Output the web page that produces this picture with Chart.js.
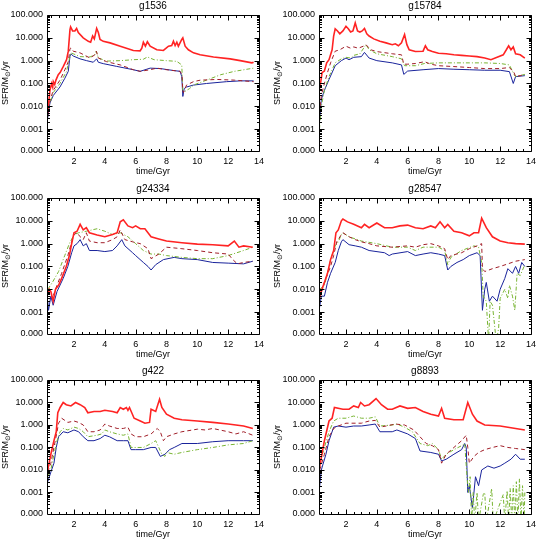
<!DOCTYPE html>
<html><head><meta charset="utf-8">
<script src="https://cdn.jsdelivr.net/npm/chart.js@4/dist/chart.umd.min.js"></script>
<style>
html,body{margin:0;padding:0;background:#fff;}
#wrap{position:relative;width:545px;height:545px;overflow:hidden;}
#wrap canvas{position:absolute;}
</style></head><body><div id="wrap"></div>
<script>
// ---------------- data ----------------
const panelNames = ['g1536','g15784','g24334','g28547','g422','g8893'];
const seriesNames = ['red','brown','green','blue'];
const yTickValues = [1.1e-4, 0.001, 0.01, 0.1, 1, 10, 100];
const xTickValues = [2,4,6,8,10,12,14];
const xLabel = 'time/Gyr';

// g1536
const g1536_red = [[0.29,0.005],[0.44,0.05],[0.55,0.1],[0.62,0.07],[0.66,0.12],[0.75,0.09],[0.83,0.14],[0.98,0.24],[1.1,0.3],[1.31,0.56],[1.52,1.1],[1.63,2.6],[1.74,23],[1.78,30],[1.91,20],[2.06,20],[2.17,26],[2.28,17],[2.6,10],[2.93,7],[3.08,6.4],[3.21,12],[3.32,9],[3.47,26],[3.58,17],[3.69,8.5],[3.9,7],[4.34,6],[5.0,4.3],[5.85,2.8],[6.29,2.7],[6.4,3.5],[6.5,6.4],[6.63,4.3],[6.76,6.7],[6.94,4.3],[7.37,3],[7.8,2.8],[8.13,4.3],[8.34,4.6],[8.45,7.1],[8.56,4.6],[8.67,6.4],[8.77,4.3],[8.99,8.5],[9.06,10],[9.21,4.3],[9.42,3],[9.75,2.2],[10.18,1.8],[11.05,1.45],[12.13,1.2],[12.78,1.0],[13.54,0.8],[13.65,0.85]];
const g1536_brown = [[0.29,0.0035],[0.44,0.018],[0.66,0.05],[1.09,0.14],[1.41,0.4],[1.63,0.9],[1.74,3.3],[1.8,3.6],[1.95,2.6],[2.39,2.2],[3.04,1.3],[3.35,1.8],[3.45,2.6],[3.58,1.3],[4.12,0.9],[5.0,0.65],[5.85,0.4],[6.29,0.34],[6.94,0.4],[7.37,0.47],[8.0,0.4],[8.88,0.34],[9.0,0.25],[9.06,0.05],[9.1,0.04],[9.3,0.085],[9.75,0.12],[10.2,0.14],[11.3,0.15],[12.4,0.14],[13.65,0.12]];
const g1536_green = [[0.29,0.007],[0.66,0.04],[1.09,0.1],[1.52,0.34],[1.74,1.55],[1.8,2.2],[1.95,2.0],[2.39,1.5],[3.04,1.45],[3.35,1.8],[3.45,2.6],[3.58,1.3],[3.9,1.1],[4.0,0.95],[5.0,1.0],[5.85,1.1],[6.5,1.15],[6.76,1.45],[7.2,1.1],[8.0,1.0],[8.67,0.93],[8.99,0.65],[9.06,0.05],[9.2,0.045],[9.5,0.06],[9.75,0.085],[10.6,0.14],[11.5,0.24],[12.4,0.34],[13.65,0.47]];
const g1536_blue = [[0.29,0.003],[0.44,0.014],[0.66,0.03],[1.09,0.07],[1.41,0.17],[1.63,0.34],[1.74,1.55],[1.8,2.0],[1.95,1.6],[2.39,1.2],[2.82,1.0],[3.25,0.85],[3.47,1.2],[3.58,0.85],[3.9,0.74],[4.77,0.56],[5.85,0.4],[6.29,0.34],[6.94,0.47],[7.6,0.45],[8.45,0.37],[8.88,0.34],[8.99,0.2],[9.06,0.027],[9.15,0.06],[9.3,0.07],[9.75,0.085],[10.6,0.1],[11.9,0.12],[12.8,0.13],[13.65,0.13]];

// g15784
const g15784_red = [[0.26,0.05],[0.35,0.1],[0.45,0.3],[0.6,0.35],[0.75,0.8],[0.9,1.1],[1.0,1.8],[1.1,3],[1.2,12],[1.3,25],[1.45,20],[1.6,15],[1.8,20],[2.0,32],[2.15,25],[2.3,18],[2.45,20],[2.6,45],[2.75,20],[2.9,18],[3.05,20],[3.2,26],[3.35,15],[3.5,12],[3.8,9],[4.2,7],[4.6,6],[5.0,5],[5.2,5.5],[5.4,4.5],[5.6,6],[5.8,14],[5.95,5],[6.1,3],[6.5,2.5],[7.0,2.6],[7.15,4.5],[7.3,3],[7.6,2.5],[8.0,2.1],[8.5,2.0],[9.0,1.8],[9.5,1.7],[10.0,1.6],[10.5,1.5],[11.0,1.3],[11.4,1.1],[11.8,1.4],[12.2,1.8],[12.4,3],[12.55,4.5],[12.7,3],[12.85,4],[13.0,2],[13.3,1.8],[13.6,1.3]];
const g15784_brown = [[0.28,0.005],[0.4,0.03],[0.6,0.1],[0.8,0.3],[1.0,0.8],[1.3,2.6],[1.6,3.0],[2.0,4.3],[2.3,3.5],[2.5,4],[2.8,3.5],[3.2,4.5],[3.3,5],[3.6,3],[4.0,2.5],[5.0,2.0],[5.6,1.8],[5.75,0.7],[6.0,0.7],[6.5,0.75],[7.1,0.9],[7.5,0.7],[8.0,0.6],[9.0,0.55],[10.0,0.5],[11.0,0.45],[12.0,0.45],[12.6,0.5],[12.9,0.3],[13.0,0.2],[13.3,0.22],[13.6,0.25]];
const g15784_green = [[0.28,0.001],[0.4,0.01],[0.6,0.05],[0.9,0.2],[1.3,0.8],[1.7,1.2],[2.0,1.4],[2.3,1.3],[2.5,1.7],[2.9,2.0],[3.2,4],[3.3,5],[3.5,3],[4.0,2.0],[5.0,1.5],[5.6,1.2],[5.8,0.6],[6.5,0.6],[7.1,0.75],[8.0,0.8],[9.0,0.8],[10.0,0.8],[11.0,0.8],[12.0,0.75],[12.6,0.65],[12.9,0.25],[13.0,0.2],[13.6,0.25]];
const g15784_blue = [[0.28,0.002],[0.4,0.02],[0.6,0.05],[0.9,0.15],[1.3,0.6],[1.7,1.0],[2.0,1.3],[2.2,1.1],[2.5,1.4],[3.0,1.5],[3.2,2.3],[3.5,1.3],[4.0,1.0],[5.0,0.8],[5.6,0.65],[5.75,0.25],[6.0,0.35],[7.0,0.4],[8.0,0.45],[9.0,0.42],[10.0,0.4],[11.0,0.38],[12.0,0.38],[12.6,0.33],[12.85,0.1],[13.0,0.2],[13.6,0.22]];

// g24334
const g24334_red = [[0.3,0.006],[0.4,0.01],[0.5,0.008],[0.65,0.003],[0.8,0.01],[1.0,0.015],[1.2,0.03],[1.5,0.1],[1.7,0.3],[1.85,1],[2.0,3],[2.2,3.5],[2.4,7],[2.6,4],[2.8,5],[3.0,3],[3.5,2.4],[4.0,2],[4.5,2.5],[4.8,3],[5.0,9],[5.2,11],[5.5,6],[5.8,5],[6.0,6],[6.3,4.5],[6.6,4.5],[7.0,2],[7.5,1.6],[8.0,1.3],[9.0,1.1],[10.0,0.95],[11.0,0.9],[12.0,0.8],[12.4,1.3],[12.7,0.7],[13.0,0.8],[13.6,0.7]];
const g24334_brown = [[0.3,0.006],[0.45,0.008],[0.6,0.004],[0.8,0.01],[1.2,0.05],[1.6,0.3],[1.85,1.2],[2.0,2.5],[2.2,3],[2.4,2],[2.6,1.5],[2.8,3],[3.0,1.3],[3.5,1.1],[4.0,1.1],[4.5,1.5],[4.8,2],[5.0,4],[5.3,1.5],[5.8,1.2],[6.3,1.0],[6.8,0.6],[7.0,0.22],[7.5,0.35],[8.0,0.7],[9.0,0.6],[10.0,0.5],[11.0,0.4],[12.0,0.35],[12.3,0.2],[12.6,0.13],[13.0,0.15],[13.6,0.17]];
const g24334_green = [[0.3,0.01],[0.6,0.02],[1.0,0.06],[1.4,0.3],[1.7,1],[2.0,2.5],[2.3,3],[2.8,3.5],[3.5,4.5],[4.0,3.5],[4.5,2.5],[5.0,3],[5.5,2],[6.0,1],[6.5,0.5],[7.0,0.35],[7.5,0.35],[8.0,0.3],[9.0,0.25],[10.0,0.22],[11.0,0.22],[12.0,0.3],[13.0,0.5],[13.6,0.7]];
const g24334_blue = [[0.3,0.003],[0.35,0.0012],[0.5,0.005],[0.65,0.002],[0.9,0.008],[1.3,0.03],[1.6,0.1],[1.85,0.4],[2.0,0.8],[2.2,1.0],[2.4,1.5],[2.6,0.8],[2.8,1.0],[3.0,0.5],[3.5,0.5],[4.0,0.45],[4.5,0.5],[4.8,0.8],[5.1,1.5],[5.3,0.8],[5.8,0.4],[6.0,0.3],[6.5,0.15],[6.8,0.1],[7.0,0.07],[7.3,0.12],[7.8,0.2],[8.5,0.25],[9.0,0.22],[10.0,0.2],[11.0,0.15],[12.0,0.14],[13.0,0.13],[13.6,0.17]];

// g28547
const g28547_red = [[0.28,0.005],[0.6,0.02],[0.8,0.05],[1.0,0.2],[1.2,0.5],[1.35,3],[1.5,4],[1.7,10],[1.8,12],[2.1,9],[2.5,7],[3.0,5],[3.2,7],[3.5,5],[4.0,8],[4.5,5],[5.0,5],[5.5,6],[6.0,6.5],[6.5,5],[7.0,4.5],[7.5,6],[7.8,5],[8.1,9],[8.4,5],[8.6,7],[9.0,3.5],[9.5,3],[10.0,2.2],[10.3,3],[10.6,3],[10.8,13],[11.1,5],[11.5,2],[12.0,1.3],[12.5,1.1],[13.0,1.0],[13.6,0.95]];
const g28547_brown = [[0.3,0.004],[0.6,0.02],[1.0,0.1],[1.2,0.3],[1.4,1.2],[1.7,2.5],[1.8,3],[2.2,2],[2.6,1.5],[3.0,1.2],[3.5,1.0],[4.0,0.8],[5.0,0.7],[6.0,0.8],[6.5,0.7],[7.0,0.9],[7.5,1.0],[8.0,0.8],[8.4,0.6],[8.6,0.2],[8.8,0.3],[9.5,0.4],[10.0,0.6],[10.5,0.8],[10.8,1.0],[10.85,0.08],[11.0,0.06],[11.5,0.08],[12.0,0.1],[12.5,0.13],[13.0,0.17],[13.6,0.2]];
const g28547_green = [[0.3,0.01],[0.6,0.015],[0.8,0.05],[1.0,0.2],[1.3,0.8],[1.5,1.2],[1.7,2.5],[1.8,3],[2.2,2],[3.0,1.3],[4.0,1.0],[5.0,0.7],[6.0,0.7],[6.5,0.5],[7.0,0.7],[8.0,0.7],[8.4,0.5],[8.6,0.12],[8.8,0.25],[9.5,0.5],[10.3,0.8],[10.6,0.7],[10.8,0.15],[10.9,0.005],[11.1,0.003],[11.25,0.00005],[11.35,0.003],[11.5,0.002],[11.75,0.00005],[11.9,0.0002],[12.0,0.004],[12.3,0.01],[12.5,0.004],[12.6,0.015],[12.8,0.005],[12.95,0.0012],[13.1,0.05],[13.3,0.04],[13.6,0.12]];
const g28547_blue = [[0.28,0.0015],[0.4,0.005],[0.6,0.005],[0.8,0.02],[1.0,0.05],[1.3,0.15],[1.5,0.5],[1.7,1.2],[1.8,1.5],[2.2,0.9],[2.6,0.8],[3.0,0.7],[3.5,0.5],[4.5,0.4],[4.8,0.3],[5.0,0.35],[6.0,0.45],[6.5,0.3],[7.0,0.35],[7.5,0.4],[8.0,0.35],[8.4,0.3],[8.6,0.07],[8.8,0.1],[9.2,0.15],[9.6,0.2],[10.0,0.3],[10.5,0.4],[10.7,0.3],[10.85,0.0012],[11.0,0.01],[11.1,0.02],[11.3,0.003],[11.5,0.005],[11.8,0.003],[12.0,0.01],[12.3,0.03],[12.5,0.08],[12.8,0.05],[13.0,0.1],[13.2,0.05],[13.4,0.15],[13.6,0.1]];

// g422
const g422_red = [[0.3,0.01],[0.5,0.05],[0.7,0.2],[0.85,0.5],[0.95,3.5],[1.1,6],[1.3,10],[1.5,8],[1.8,7],[2.1,10],[2.4,8],[2.7,6],[2.9,3.5],[3.3,4],[3.7,4],[4.0,4.5],[4.5,4],[4.8,3.5],[5.0,6],[5.2,5],[5.4,6],[5.5,4.5],[5.6,6],[5.9,2],[6.3,1.5],[6.6,1.2],[6.9,1.3],[7.0,5],[7.3,4],[7.55,14],[7.7,6],[8.0,3],[8.5,2],[9.0,1.7],[10.0,1.5],[11.0,1.3],[12.0,1.1],[13.0,0.9],[13.6,0.7]];
const g422_brown = [[0.3,0.008],[0.5,0.02],[0.7,0.1],[0.9,0.5],[1.0,1.2],[1.2,2],[1.6,1.3],[2.0,1.5],[2.3,1.3],[2.6,1.0],[2.9,0.5],[3.3,0.5],[3.7,0.6],[4.0,1.1],[4.3,0.9],[4.8,0.7],[5.2,0.7],[5.5,0.8],[5.7,0.4],[6.0,0.3],[6.5,0.3],[7.0,0.4],[7.4,0.7],[7.6,0.5],[7.8,0.2],[8.0,0.3],[8.5,0.4],[9.0,0.5],[10.0,0.65],[10.5,0.6],[11.0,0.7],[12.0,0.5],[12.5,0.4],[13.0,0.5],[13.6,0.35]];
const g422_green = [[0.3,0.005],[0.5,0.01],[0.7,0.05],[0.9,0.2],[1.1,0.5],[1.3,0.7],[1.6,0.6],[2.0,0.8],[2.3,0.7],[2.6,0.5],[2.9,0.3],[3.5,0.35],[3.8,0.4],[4.0,0.6],[4.3,0.5],[4.8,0.4],[5.2,0.35],[5.5,0.4],[5.7,0.1],[6.0,0.1],[6.5,0.1],[7.0,0.15],[7.3,0.2],[7.5,0.1],[7.7,0.05],[7.9,0.04],[8.0,0.06],[8.5,0.05],[9.0,0.06],[10.0,0.08],[11.0,0.1],[12.0,0.13],[13.0,0.15],[13.6,0.2]];
const g422_blue = [[0.3,0.003],[0.5,0.008],[0.7,0.02],[0.85,0.1],[1.0,0.3],[1.3,0.5],[1.6,0.45],[2.0,0.6],[2.3,0.5],[2.6,0.3],[2.9,0.2],[3.3,0.2],[3.7,0.25],[4.0,0.35],[4.3,0.3],[4.8,0.2],[5.2,0.2],[5.5,0.2],[5.7,0.08],[6.0,0.08],[6.5,0.08],[7.0,0.1],[7.3,0.1],[7.6,0.04],[7.9,0.05],[8.2,0.08],[8.5,0.1],[9.0,0.15],[10.0,0.15],[11.0,0.18],[12.0,0.2],[13.0,0.2],[13.6,0.2]];

// g8893
const g8893_red = [[0.3,0.015],[0.6,0.2],[0.9,1.5],[1.1,2],[1.25,6],[1.8,5],[2.2,5],[2.5,7],[2.8,6],[2.95,10],[3.2,7],[3.5,8],[3.95,15],[4.3,8],[4.7,5],[5.0,5],[5.5,7],[6.0,5.5],[6.5,6],[7.0,4],[7.5,3],[8.0,2.5],[8.2,5.5],[8.4,2],[9.0,1.7],[9.6,1.7],[9.9,10],[10.2,3],[10.5,1.5],[11.0,1.0],[12.0,0.9],[13.0,0.7],[13.6,0.6]];
const g8893_brown = [[0.3,0.01],[0.6,0.05],[0.9,0.3],[1.2,0.7],[1.5,0.9],[2.0,1.2],[3.0,1.2],[3.5,1.5],[3.9,1.6],[4.2,0.8],[4.6,0.9],[5.2,1.1],[5.8,1.0],[6.4,0.6],[6.8,0.3],[7.2,0.15],[7.6,0.12],[8.0,0.08],[8.2,0.02],[8.5,0.05],[9.0,0.1],[9.5,0.2],[9.8,0.35],[9.9,0.1],[10.0,0.02],[10.3,0.04],[10.6,0.06],[11.0,0.08],[11.5,0.1],[12.0,0.12],[12.5,0.1],[13.0,0.09],[13.6,0.08]];
const g8893_green = [[0.3,0.02],[0.6,0.1],[0.9,0.5],[1.2,1.5],[1.5,2],[2.0,2],[2.5,2.5],[3.0,2],[3.5,2],[3.9,2.3],[4.2,0.9],[5.0,1.0],[5.3,1.1],[5.8,0.8],[6.3,0.5],[6.8,0.15],[7.3,0.12],[7.6,0.15],[8.0,0.08],[8.2,0.03],[8.5,0.05],[9.0,0.08],[9.5,0.12],[9.7,0.15],[9.85,0.005],[9.95,0.001],[10.05,0.005],[10.15,0.00005],[10.25,0.001],[10.35,0.00005],[10.5,0.001],[10.6,0.00005],[10.9,0.0008],[11.0,0.001],[11.1,0.00005],[11.45,0.0015],[11.55,0.00005],[12.2,0.0008],[12.3,0.00005],[12.45,0.0012],[12.55,0.00005],[12.65,0.0015],[12.75,0.00005],[12.85,0.002],[12.95,0.00005],[13.05,0.003],[13.15,0.00005],[13.25,0.004],[13.35,0.00005],[13.45,0.002],[13.55,0.00005],[13.6,0.001]];
const g8893_blue = [[0.28,0.0015],[0.4,0.01],[0.7,0.05],[0.9,0.2],[1.2,0.8],[1.5,0.9],[2.0,0.8],[2.5,0.9],[3.0,0.9],[3.5,1.0],[3.9,1.1],[4.2,0.5],[5.0,0.5],[5.3,0.6],[6.0,0.4],[6.5,0.25],[6.8,0.07],[7.5,0.06],[8.0,0.05],[8.2,0.025],[8.5,0.03],[9.0,0.05],[9.5,0.08],[9.7,0.15],[9.8,0.1],[9.9,0.001],[10.0,0.002],[10.2,0.0002],[10.4,0.005],[10.6,0.002],[10.8,0.01],[11.2,0.015],[11.6,0.012],[12.0,0.015],[12.3,0.02],[12.7,0.03],[13.0,0.05],[13.3,0.03],[13.6,0.03]];

const panelData = [
  [g1536_red, g1536_brown, g1536_green, g1536_blue],
  [g15784_red, g15784_brown, g15784_green, g15784_blue],
  [g24334_red, g24334_brown, g24334_green, g24334_blue],
  [g28547_red, g28547_brown, g28547_green, g28547_blue],
  [g422_red, g422_brown, g422_green, g422_blue],
  [g8893_red, g8893_brown, g8893_green, g8893_blue]
];

// ---------------- styles / layout ----------------
const FONT = '"Liberation Sans", Arial, sans-serif';
const styles = {
  red:   {color:'rgb(255,35,35)', width:1.6, dash:[]},
  brown: {color:'rgb(160,30,40)', width:1, dash:[4,3]},
  green: {color:'rgb(120,180,50)', width:1, dash:[4,2,1,2]},
  blue:  {color:'rgb(25,35,155)', width:1, dash:[]}
};
const colLeft = [0, 272];
const rowTop = [0, 183, 365];
const rowHeight = [182, 182, 180];

const framePlugin = {
  id:'frame',
  afterDraw(chart){
    const {ctx, chartArea:a, scales:{x, y}} = chart;
    ctx.save();
    ctx.strokeStyle = '#000'; ctx.lineWidth = 1;
    const L = Math.round(a.left)+0.5, R = Math.round(a.right)+0.5, T = Math.round(a.top)+0.5, B = Math.round(a.bottom)+0.5;
    ctx.beginPath();
    ctx.rect(L, T, R-L, B-T);
    for (let k=1; k<=28; k++){
      const t = k*0.5;
      if (t < x.min || t > x.max) continue;
      const px = Math.round(x.getPixelForValue(t))+0.5;
      const len = (k%4===0) ? 5 : 2.5;
      ctx.moveTo(px, B); ctx.lineTo(px, B-len);
      ctx.moveTo(px, T); ctx.lineTo(px, T+len);
    }
    for (let e=-4; e<=2; e++){
      for (let m=1; m<=9; m++){
        const v = m*Math.pow(10,e);
        if (v < y.min || v > y.max*1.0001) continue;
        const py = Math.round(y.getPixelForValue(v))+0.5;
        const len = (m===1) ? 5 : 2.5;
        ctx.moveTo(L, py); ctx.lineTo(L+len, py);
        ctx.moveTo(R, py); ctx.lineTo(R-len, py);
      }
    }
    ctx.stroke();
    // title
    ctx.fillStyle = '#000';
    ctx.font = '10px ' + FONT;
    ctx.textAlign = 'center'; ctx.textBaseline = 'middle';
    ctx.fillText(chart.options.plugins.frame.title, (a.left+a.right)/2, 6);
    // y title with subscript sun symbol
    ctx.translate(6, (a.top+a.bottom)/2);
    ctx.rotate(-Math.PI/2);
    const f1 = '9px ' + FONT, f2 = '7px ' + FONT;
    ctx.font = f1; const w1 = ctx.measureText('SFR/M').width, w3 = ctx.measureText('/yr').width;
    ctx.font = f2; const w2 = ctx.measureText('\u2299').width;
    let sx = -(w1+w2+w3)/2;
    ctx.textAlign = 'left';
    ctx.font = f1; ctx.fillText('SFR/M', sx, 0); sx += w1;
    ctx.font = f2; ctx.fillText('\u2299', sx, 2.5); sx += w2;
    ctx.font = f1; ctx.fillText('/yr', sx, 0);
    ctx.restore();
  }
};

const wrap = document.getElementById('wrap');
panelNames.forEach((name, i) => {
  const col = i % 2, row = Math.floor(i/2);
  const cv = document.createElement('canvas');
  cv.width = 272; cv.height = rowHeight[row];
  cv.style.left = colLeft[col]+'px'; cv.style.top = rowTop[row]+'px';
  cv.style.width = '272px'; cv.style.height = rowHeight[row]+'px';
  wrap.appendChild(cv);
  const datasets = panelData[i].map((pts, k) => {
    const st = styles[seriesNames[k]];
    return {
      label: seriesNames[k],
      data: pts.map(p => ({x:p[0], y:p[1]})),
      borderColor: st.color, borderWidth: st.width, borderDash: st.dash,
      pointRadius: 0, fill: false, tension: 0
    };
  });
  new Chart(cv, {
    type: 'line',
    data: {datasets},
    plugins: [framePlugin],
    options: {
      responsive: false, animation: false, devicePixelRatio: 1,
      layout: {padding: {top: 15, right: 13, left: 0, bottom: 0}},
      plugins: {legend: {display:false}, tooltip: {enabled:false}, frame: {title: name}},
      scales: {
        x: {
          type: 'linear', min: 0.25, max: 14,
          afterBuildTicks: s => { s.ticks = xTickValues.map(v => ({value:v})); },
          afterFit: s => { s.height = 31; },
          grid: {display:false, drawTicks:false}, border: {display:false},
          ticks: {autoSkip:false, maxRotation:0, padding:5, color:'#000', font:{family:FONT, size:9}, callback: v => String(v)},
          title: {display:true, text:xLabel, color:'#000', font:{family:FONT, size:9}, padding:{top:0, bottom:5}}
        },
        y: {
          type: 'logarithmic', min: yTickValues[0], max: 100,
          afterBuildTicks: s => { s.ticks = yTickValues.map(v => ({value:v})); },
          afterFit: s => { s.width = 47; },
          grid: {display:false, drawTicks:false}, border: {display:false},
          ticks: {autoSkip:false, padding:4, color:'#000', font:{family:FONT, size:9}, callback: v => Number(v).toFixed(3)}
        }
      }
    }
  });
});
</script></body></html>
